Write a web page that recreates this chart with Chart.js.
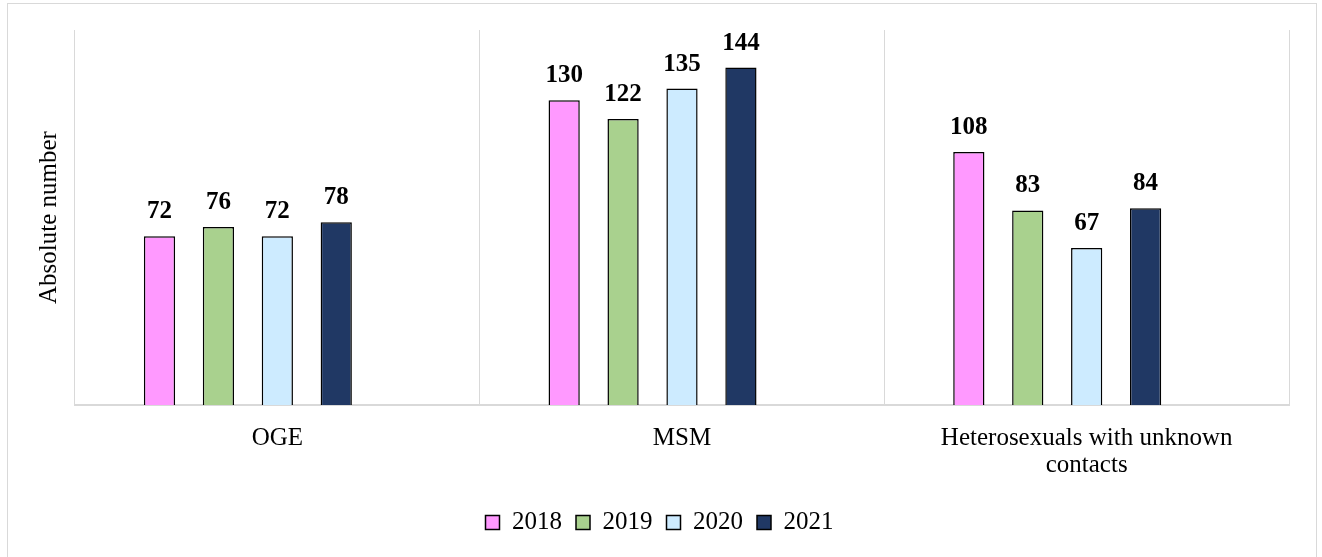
<!DOCTYPE html>
<html>
<head>
<meta charset="utf-8">
<script src="https://cdn.jsdelivr.net/npm/chart.js@4"></script>
<style>
  html, body { margin: 0; padding: 0; background: #fff; }
  #frame {
    position: absolute; left: 7px; top: 3px; width: 1310px; height: 570px;
    border: 1px solid #d9d9d9; box-sizing: border-box;
  }
  #chart { position: absolute; left: 0; top: 0; }
</style>
</head>
<body>
<div id="frame"></div>
<canvas id="chart" width="1322" height="557"></canvas>
<script>
// values
const categories = ["OGE", "MSM", ["Heterosexuals with unknown", "contacts"]];
const years = ["2018", "2019", "2020", "2021"];
const values2018 = [72, 130, 108];
const values2019 = [76, 122, 83];
const values2020 = [72, 135, 67];
const values2021 = [78, 144, 84];
const spacer = [null, null, null]; // empty 5th slot, like the original layout

const colors = ["#ff99ff", "#a9d18e", "#cdebff", "#203864"];
const serif = "'Liberation Serif', 'Times New Roman', serif";

const seriesValues = [values2018, values2019, values2020, values2021];
const datasets = years.map((y, i) => ({
    label: y,
    data: seriesValues[i],
    backgroundColor: colors[i],
    borderColor: "#000",
    borderWidth: 1.5
}));
datasets.push({ label: "", data: spacer, backgroundColor: "transparent", borderWidth: 0 });

// numbers above the bars
const barLabels = {
    id: "barLabels",
    afterDatasetsDraw(chart) {
        const ctx = chart.ctx;
        ctx.save();
        ctx.font = "bold 25px " + serif;
        ctx.fillStyle = "#000";
        ctx.textAlign = "center";
        ctx.textBaseline = "alphabetic";
        chart.data.datasets.forEach((ds, di) => {
            if (!ds.label) return;
            chart.getDatasetMeta(di).data.forEach((bar, i) => {
                const v = ds.data[i];
                if (v == null) return;
                ctx.fillText(String(v), bar.x, bar.y - 18);
            });
        });
        ctx.restore();
    }
};

window.onload = function () {
    new Chart(document.getElementById("chart").getContext("2d"), {
        type: "bar",
        data: { labels: categories, datasets: datasets },
        options: {
            responsive: false,
            animation: false,
            layout: { padding: { left: 30, right: 33, top: 30, bottom: 12 } },
            datasets: {
                bar: { categoryPercentage: 0.728, barPercentage: 0.53 }
            },
            scales: {
                x: {
                    grid: { color: "#d9d9d9", lineWidth: 1, drawTicks: false, offset: true },
                    border: { color: "#d9d9d9", width: 2 },
                    ticks: { color: "#000", font: { family: serif, size: 25, lineHeight: 1.08 }, padding: 20, maxRotation: 0 },
                    afterFit(scale) { scale.height = 91; }
                },
                y: {
                    min: 0,
                    max: 160,
                    grid: { display: false },
                    border: { display: false },
                    ticks: { display: false },
                    title: { display: true, text: "Absolute number", color: "#000", font: { family: serif, size: 25 } },
                    afterFit(scale) { scale.width = 45; }
                }
            },
            plugins: {
                legend: {
                    position: "bottom",
                    labels: {
                        color: "#000",
                        font: { family: serif, size: 25 },
                        boxWidth: 14,
                        boxHeight: 14,
                        padding: 14,
                        filter: item => item.text !== ""
                    }
                },
                tooltip: { enabled: false }
            }
        },
        plugins: [barLabels]
    });
};
</script>
</body>
</html>
